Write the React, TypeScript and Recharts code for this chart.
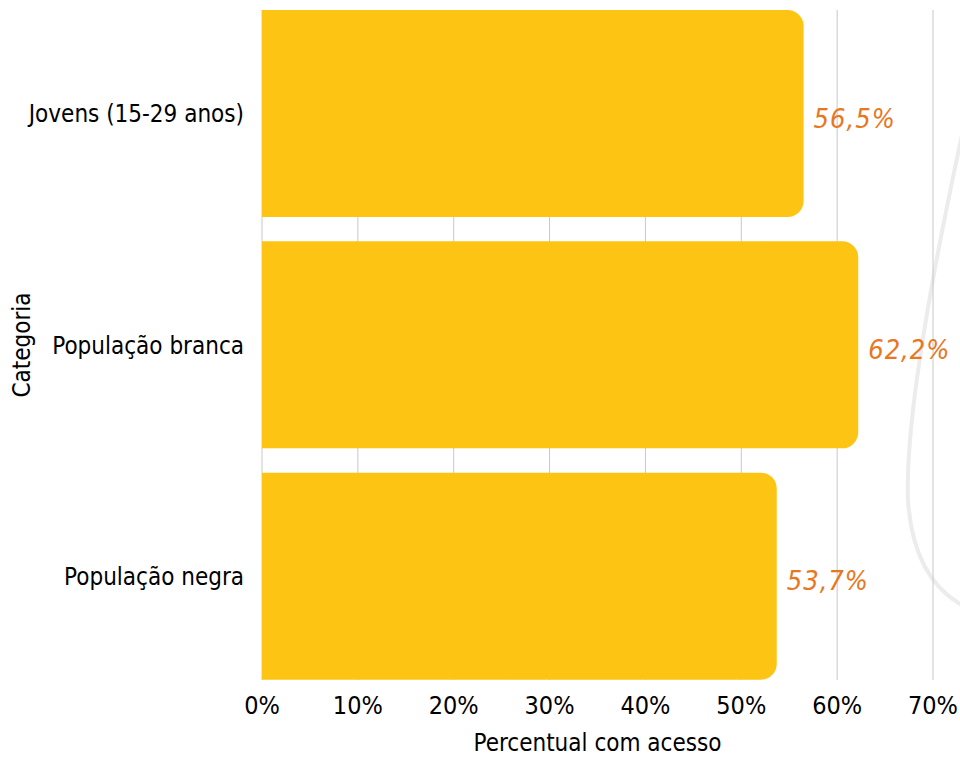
import { BarChart, Bar, XAxis, YAxis, CartesianGrid, LabelList } from 'recharts';

const categories = ['Jovens (15-29 anos)', 'População branca', 'População negra'];
const values = [56.5, 62.2, 53.7];
const xTicks = [0, 10, 20, 30, 40, 50, 60, 70];

const data = categories.map((name, i) => ({ name, value: values[i] }));

const FONT = '"Liberation Sans Narrow", "DejaVu Sans Condensed", "Roboto", sans-serif';

const fmtPct = (v: number) => `${String(v).replace('.', ',')}%`;

const ValueLabel = (props: any) => {
    const { x, y, width, height, value } = props;
    return (
        <text
            x={x + width + 10}
            y={y + height / 2 + 14}
            fill="#E8771E"
            fontSize={27}
            fontStyle="italic"
            fontFamily={FONT}
            letterSpacing={1}
        >
            {fmtPct(value)}
        </text>
    );
};

export default function App() {
    return (
        <div style={{ position: 'absolute', left: 0, top: 0, width: 960, height: 760, background: '#fff', fontFamily: FONT }}>
            <svg width={960} height={760} style={{ position: 'absolute', left: 0, top: 0, pointerEvents: 'none' }}>
                <path
                    d="M 962 135 C 935 260, 905 420, 908 500 C 912 560, 935 590, 962 605"
                    fill="none"
                    stroke="#ececec"
                    strokeWidth={4}
                />
            </svg>
            <BarChart
                width={960}
                height={760}
                data={data}
                layout="vertical"
                margin={{ top: 10, right: 27, bottom: 0, left: 0 }}
                barCategoryGap={12}
                style={{ position: 'absolute', left: 0, top: 0 }}
            >
                <CartesianGrid horizontal={false} stroke="#c8c8c8" />
                <XAxis
                    type="number"
                    domain={[0, 70]}
                    ticks={xTicks}
                    tickFormatter={(v: number) => `${v}%`}
                    axisLine={false}
                    tickLine={false}
                    tickMargin={10}
                    height={80}
                    tick={{ fill: '#000', fontSize: 25, fontFamily: FONT }}
                    label={{
                        value: 'Percentual com acesso',
                        position: 'insideBottom',
                        offset: 9,
                        fill: '#000',
                        fontSize: 24,
                        fontFamily: FONT,
                    }}
                />
                <YAxis
                    type="category"
                    dataKey="name"
                    width={262}
                    padding={{ top: -12, bottom: -12 }}
                    axisLine={false}
                    tickLine={false}
                    tickMargin={12}
                    tick={{ fill: '#000', fontSize: 24, fontFamily: FONT }}
                    label={{
                        content: () => (
                            <text
                                x={30}
                                y={345}
                                transform="rotate(-90 30 345)"
                                textAnchor="middle"
                                fill="#000"
                                fontSize={24}
                                fontFamily={FONT}
                            >
                                Categoria
                            </text>
                        ),
                    }}
                />
                <Bar dataKey="value" fill="#FDC414" radius={[0, 16, 16, 0]} isAnimationActive={false}>
                    <LabelList dataKey="value" content={ValueLabel} />
                </Bar>
            </BarChart>
        </div>
    );
}
